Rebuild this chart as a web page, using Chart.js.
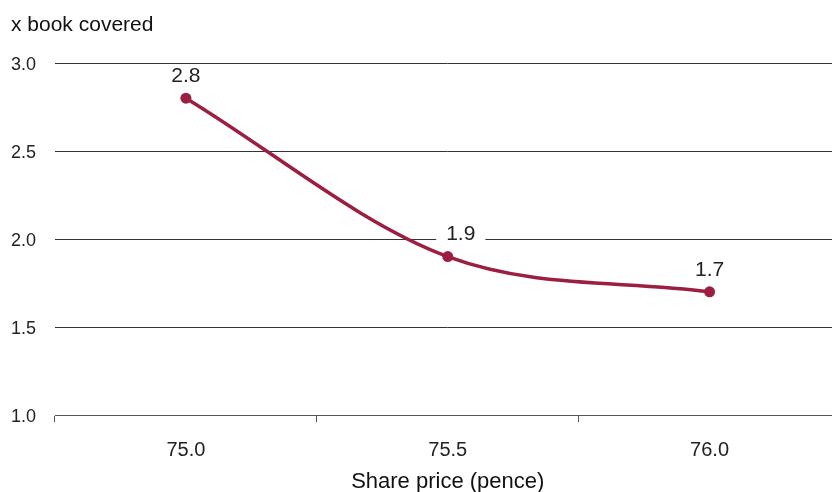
<!DOCTYPE html>
<html>
<head>
<meta charset="utf-8">
<script src="https://cdn.jsdelivr.net/npm/chart.js@4/dist/chart.umd.min.js"></script>
<style>
  html, body { margin: 0; padding: 0; background: #fff; overflow: hidden; }
  #wrap { width: 846px; height: 492px; }
</style>
</head>
<body>
<div id="wrap"><canvas id="c"></canvas></div>
<script>
// Book cover multiple against share price
const categories = ['75.0', '75.5', '76.0'];
const bookCovered = [2.8, 1.9, 1.7];
const yTicks = [1.0, 1.5, 2.0, 2.5, 3.0];
const yTitle = 'x book covered';
const xTitle = 'Share price (pence)';

const lineColor = '#9a1f40';
const textColor = '#222222';
const fontFamily = '"Liberation Sans", Arial, sans-serif';

// Value labels sitting above each point on a white box
const valueLabels = {
  id: 'valueLabels',
  afterDatasetsDraw(chart, args, opts) {
    const ctx = chart.ctx;
    const meta = chart.getDatasetMeta(0);
    ctx.save();
    ctx.font = '21px ' + fontFamily;
    ctx.textAlign = 'center';
    ctx.textBaseline = 'middle';
    meta.data.forEach((pt, i) => {
      const txt = bookCovered[i].toFixed(1);
      const shift = (opts.shift && opts.shift[i]) || 0;
      const x = pt.x + shift;
      const y = pt.y - 22;
      const w = ctx.measureText(txt).width;
      ctx.fillStyle = '#ffffff';
      ctx.fillRect(x - w / 2 - 10, y - 11, w + 20, 22);
      ctx.fillStyle = textColor;
      ctx.fillText(txt, x, y);
    });
    ctx.restore();
  }
};

// Vertical-axis caption across the top left
const axisCaption = {
  id: 'axisCaption',
  afterDraw(chart) {
    const ctx = chart.ctx;
    ctx.save();
    ctx.font = '21px ' + fontFamily;
    ctx.fillStyle = '#111111';
    ctx.textAlign = 'left';
    ctx.textBaseline = 'alphabetic';
    ctx.fillText(yTitle, 11, 31);
    ctx.restore();
  }
};

new Chart(document.getElementById('c'), {
  type: 'line',
  data: {
    labels: categories,
    datasets: [{
      data: bookCovered,
      borderColor: lineColor,
      backgroundColor: lineColor,
      borderWidth: 3.5,
      pointRadius: 5.5,
      pointBackgroundColor: lineColor,
      pointBorderWidth: 0,
      cubicInterpolationMode: 'monotone',
      fill: false
    }]
  },
  options: {
    responsive: true,
    maintainAspectRatio: false,
    animation: false,
    layout: { padding: { top: 63, right: 0, bottom: 0, left: 0 } },
    plugins: {
      legend: { display: false },
      tooltip: { enabled: false },
      valueLabels: { shift: { 1: 13 } }
    },
    scales: {
      x: {
        type: 'category',
        offset: true,
        grid: {
          offset: true,
          drawOnChartArea: false,
          drawTicks: true,
          tickLength: 7,
          tickColor: '#555555',
          tickWidth: 1
        },
        border: { display: true, color: '#555555', width: 1 },
        ticks: {
          color: textColor,
          font: { family: fontFamily, size: 20 },
          padding: 16
        },
        title: {
          display: true,
          text: xTitle,
          color: '#111111',
          font: { family: fontFamily, size: 22, lineHeight: 0.9 },
          padding: { top: 0, bottom: 0 }
        },
        afterFit(scale) { scale.height = 77; }
      },
      y: {
        min: 1.0,
        max: 3.0,
        afterBuildTicks(scale) { scale.ticks = yTicks.map(v => ({ value: v })); },
        grid: {
          drawTicks: false,
          color: (c) => c.tick && c.tick.value === 1.0 ? 'rgba(0,0,0,0)' : '#333333',
          lineWidth: 1
        },
        border: { display: false },
        ticks: {
          color: textColor,
          font: { family: fontFamily, size: 18 },
          padding: 19,
          labelOffset: 2,
          callback: (v) => Number(v).toFixed(1)
        },
        afterFit(scale) { scale.width = 55; }
      }
    }
  },
  plugins: [valueLabels, axisCaption]
});
</script>
</body>
</html>
